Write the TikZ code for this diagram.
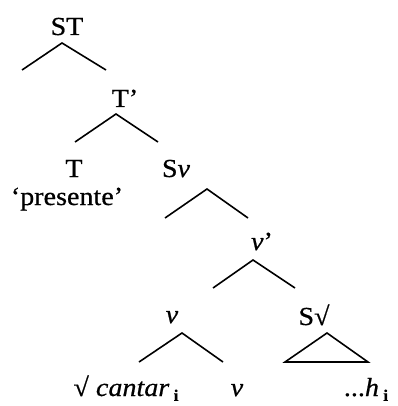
\documentclass[tikz,border=0pt]{standalone}
\usepackage{fontspec}
\setmainfont{Liberation Serif}[FakeStretch=1.08,FakeBold=0.6]
\newcommand\subidx{\raisebox{-0.4ex}{\fontsize{16}{16}\selectfont\bfseries i}}
\begin{document}
\begin{tikzpicture}[x=1pt,y=-1pt,
  lbl/.style={anchor=base,inner sep=0pt,font=\fontsize{26}{30}\selectfont},
  br/.style={line width=1.6pt,line join=miter}]
\useasboundingbox (0,0) rectangle (397,406);
% labels
\node[lbl] (ST) at (67,35) {ST};
\node[lbl] (Tbar) at (125,107) {T’};
\node[lbl] (T) at (74,177) {T};
\node[lbl] (Sv) at (176,177) {S\textit{v}};
\node[lbl] (pres) at (67,205) {‘presente’};
\node[lbl] (vbar) at (262,250) {\textit{v}’};
\node[lbl] (v) at (172,323) {\textit{v}};
\node[lbl] (Sroot) at (314,325) {S√};
\node[lbl] (cantar) at (126,396) {√ \textit{cantar}\,\subidx};
\node[lbl] (vb) at (237,396) {\textit{v}};
\node[lbl] (h) at (366,396) {...\textit{h}\,\subidx};
% branch points
\coordinate (STa) at (62,43);  \coordinate (STl) at (22,70);  \coordinate (STr) at (106,70);
\coordinate (Ta) at (116,114); \coordinate (Tl) at (75,142);  \coordinate (Tr) at (158,142);
\coordinate (Sva) at (207,189); \coordinate (Svl) at (165,218); \coordinate (Svr) at (248,218);
\coordinate (vba) at (253,260); \coordinate (vbl) at (213,288); \coordinate (vbr) at (295,288);
\coordinate (va) at (182,333); \coordinate (vl) at (139,362); \coordinate (vr) at (223,362);
\coordinate (Sra) at (327,333); \coordinate (Srl) at (285,362); \coordinate (Srr) at (368,362);
% branches
\draw[br] (STl) -- (STa) -- (STr);
\draw[br] (Tl) -- (Ta) -- (Tr);
\draw[br] (Svl) -- (Sva) -- (Svr);
\draw[br] (vbl) -- (vba) -- (vbr);
\draw[br] (vl) -- (va) -- (vr);
\draw[br] (Sra) -- (Srl) -- (Srr) -- cycle;
\end{tikzpicture}
\end{document}
